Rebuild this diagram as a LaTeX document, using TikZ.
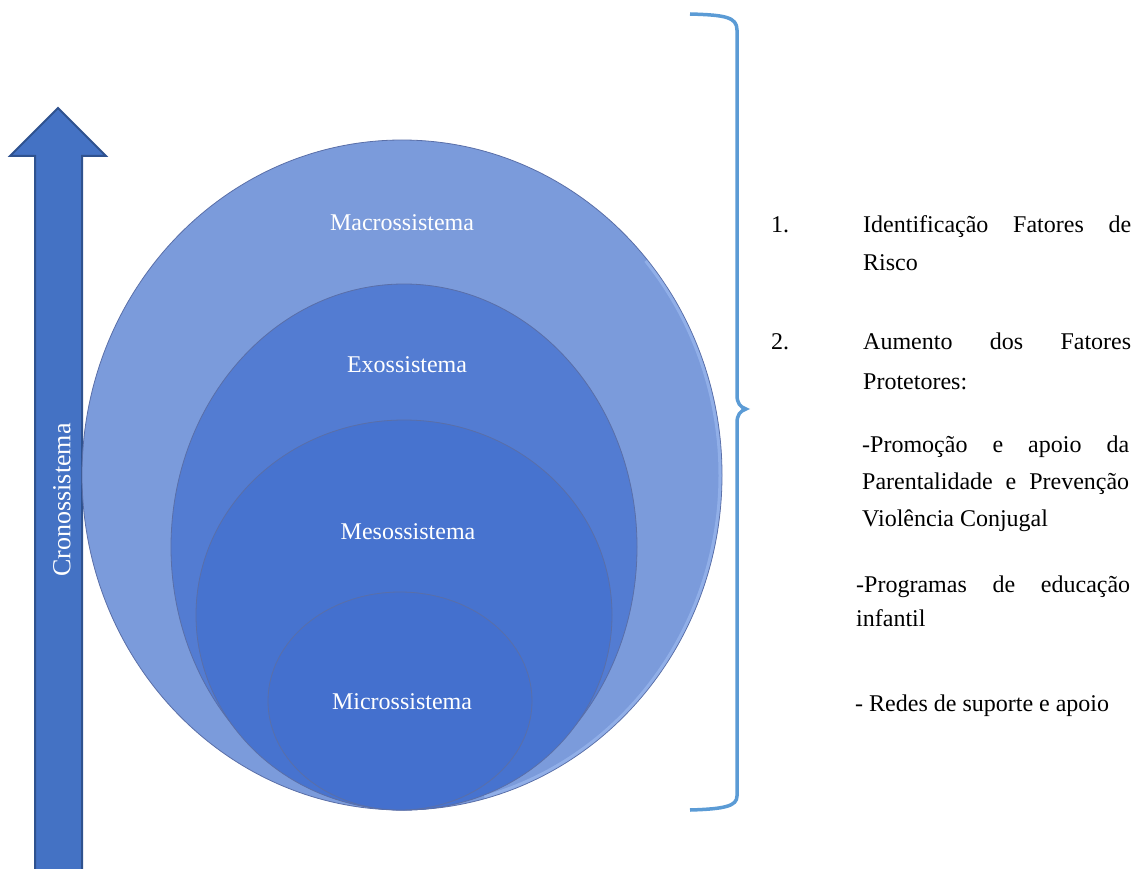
\documentclass[tikz,border=0pt]{standalone}
\usepackage{fontspec}
\setmainfont{Liberation Serif}
\definecolor{macrofill}{HTML}{7B9BDB}
\definecolor{exofill}{HTML}{537CD2}
\definecolor{mesofill}{HTML}{4773CF}
\definecolor{microfill}{HTML}{4470CE}
\definecolor{sysedge}{HTML}{5A6FA8}
\definecolor{sysrim}{HTML}{A8C4F6}
\definecolor{arrowfill}{HTML}{4472C4}
\definecolor{arrowedge}{HTML}{2F528F}
\definecolor{bracecol}{HTML}{5B9BD5}
\newcommand{\jline}[2]{\makebox[#1][s]{#2}}

\begin{document}
\begin{tikzpicture}[x=1pt,y=-1pt,
      system/.style={draw=sysedge,line width=0.8pt},
      rim/.style={draw=sysrim,opacity=0.5,line width=3pt},
      syslabel/.style={text=white,font=\fontsize{24}{24}\selectfont},
      listline/.style={anchor=base west,inner sep=0pt,font=\fontsize{24}{24}\selectfont}
    ]
    \useasboundingbox (0,0) rectangle (1135,869);
    \filldraw[fill=arrowfill,draw=arrowedge,line width=2pt,line join=miter]
        (35,872) -- (35,156) -- (10,156) -- (58,108) -- (106,156) -- (82,156) -- (82,872) -- cycle;
    \node[text=white,rotate=90,font=\fontsize{26}{26}\selectfont] (crono) at (62,500) {Cronossistema};

    \draw[system,fill=macrofill] (402,475) ellipse [x radius=320,y radius=335];
    \draw[rim] (402,475) ++(-40:318 and 333) arc [start angle=-40,end angle=75,x radius=318,y radius=333];
    \draw[system,fill=exofill] (404,547) ellipse [x radius=233,y radius=263];
    \draw[system,fill=mesofill] (404,615) ellipse [x radius=208,y radius=195];
    \draw[system,fill=microfill] (400,701) ellipse [x radius=132,y radius=109];
    \node[syslabel,anchor=base] (macro) at (402,231) {Macrossistema};
    \node[syslabel,anchor=base] (exo) at (407,372) {Exossistema};
    \node[syslabel,anchor=base] (meso) at (408,539) {Mesossistema};
    \node[syslabel,anchor=base] (micro) at (402,709) {Microssistema};

    \draw[bracecol,line width=3.5pt]
        (690,14) .. controls (725,15) and (737,17) .. (737,30) -- (737,395)
        .. controls (737,403) and (740,407) .. (746,409)
        .. controls (740,411) and (737,415) .. (737,423) -- (737,796)
        .. controls (737,806) and (725,809) .. (690,810);

    \node[listline] (n1) at (771,233) {1.};
    \node[listline] (t1a) at (863,233) {\jline{268pt}{Identificação Fatores de}};
    \node[listline] (t1b) at (863,270) {Risco};
    \node[listline] (n2) at (771,349) {2.};
    \node[listline] (t2a) at (863,349) {\jline{268pt}{Aumento dos Fatores}};
    \node[listline] (t2b) at (863,389) {Protetores:};
    \node[listline] (p1) at (862,452) {\jline{267pt}{-Promoção e apoio da}};
    \node[listline] (p2) at (862,489) {\jline{267pt}{Parentalidade e Prevenção}};
    \node[listline] (p3) at (862,526) {Violência Conjugal};
    \node[listline] (e1) at (856,592) {\jline{274pt}{-Programas de educação}};
    \node[listline] (e2) at (856,626) {infantil};
    \node[listline] (r1) at (855,711) {- Redes de suporte e apoio};
\end{tikzpicture}
\end{document}
